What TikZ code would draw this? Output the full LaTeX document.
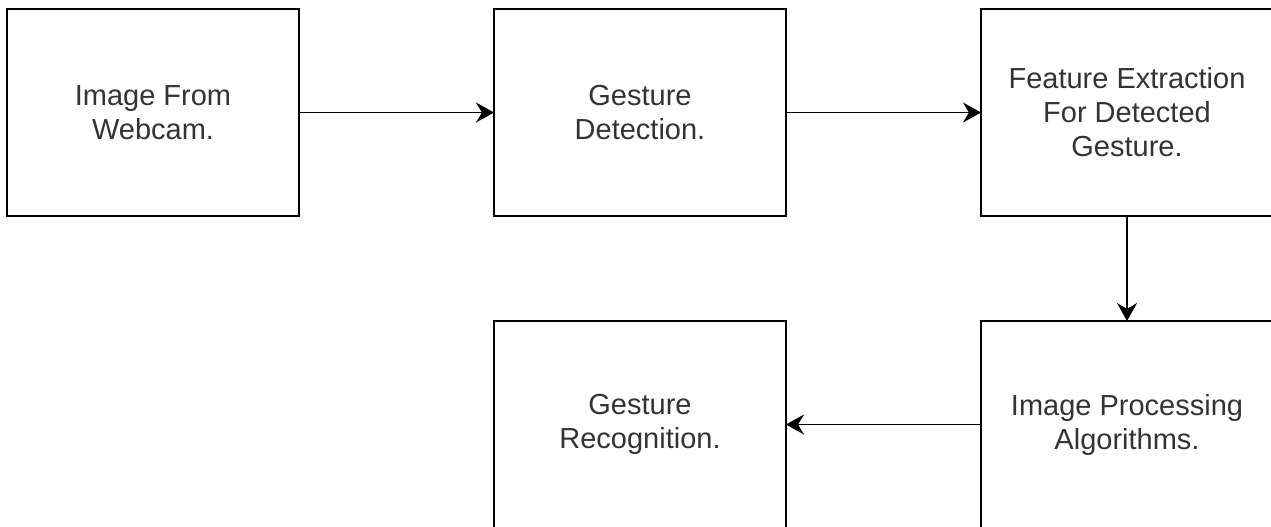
\documentclass[tikz,border=0pt]{standalone}
\usepackage{fontspec}
\setmainfont{Liberation Sans}
\usetikzlibrary{positioning,arrows.meta}

\definecolor{labelgray}{HTML}{333333}

\begin{document}
\begin{tikzpicture}[x=1pt,y=1pt,
    node distance=52.5pt and 97.5pt,
    stage/.style={draw=black, line width=1pt, outer sep=0pt, inner sep=0pt,
                  minimum width=146pt, minimum height=103.5pt, align=center,
                  text=labelgray, font=\fontsize{14.5}{17}\selectfont},
    flow/.style={line width=0.8pt, -{Stealth[length=9pt,width=10pt,inset=3pt]}}]
    \useasboundingbox (0,0) rectangle (635.5,-263);
    % top row, left to right
    \node[stage, anchor=north west] (webcam) at (3.5,-4.5) {Image From\\Webcam.};
    \node[stage, right=of webcam] (detect) {Gesture\\Detection.};
    \node[stage, right=of detect] (feature) {Feature Extraction\\For Detected\\Gesture.};
    % bottom row, right to left
    \node[stage, below=of feature] (process) {Image Processing\\Algorithms.};
    \node[stage, left=of process] (recog) {Gesture\\Recognition.};
    \draw[flow] (webcam) -- (detect);
    \draw[flow] (detect) -- (feature);
    \draw[flow] (feature) -- (process);
    \draw[flow] (process) -- (recog);
\end{tikzpicture}
\end{document}
